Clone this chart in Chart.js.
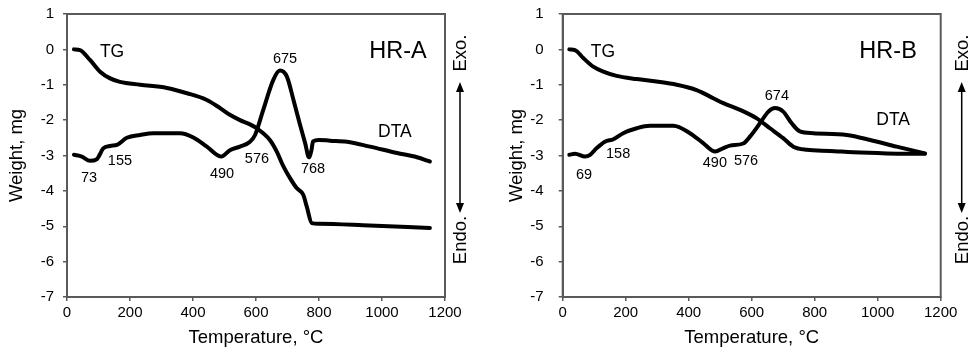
<!DOCTYPE html>
<html>
<head>
<meta charset="utf-8">
<script src="https://cdn.jsdelivr.net/npm/chart.js@4.4.1/dist/chart.umd.min.js"></script>
<style>
  html, body { margin: 0; padding: 0; background: #fff; }
  .wrap { position: relative; width: 974px; height: 350px; }
  canvas { position: absolute; top: 0; }
</style>
</head>
<body>
<div class="wrap">
  <canvas id="hrA" width="487" height="350" style="left:0"></canvas>
  <canvas id="hrB" width="487" height="350" style="left:487px"></canvas>
</div>
<script>
'use strict';

// HR-A, TG and DTA traces (temperature in °C, weight in mg)
const tgA_T = [22, 41, 73, 105, 137, 168, 232, 317, 381, 444, 486, 517, 549, 581, 602, 644, 666, 687, 708, 729, 750, 761, 777, 800, 940, 1152];
const tgA_V = [0, -0.02, -0.3, -0.63, -0.82, -0.92, -1.0, -1.09, -1.24, -1.43, -1.66, -1.85, -2.0, -2.12, -2.23, -2.56, -2.89, -3.31, -3.64, -3.92, -4.11, -4.44, -4.91, -4.93, -4.97, -5.05];
const dtaA_T = [22, 47, 73, 95, 115, 137, 159, 190, 232, 274, 317, 359, 401, 444, 490, 517, 549, 581, 597, 623, 655, 676, 698, 719, 740, 756, 768, 776, 781, 800, 835, 889, 962, 1048, 1111, 1152];
const dtaA_V = [-2.98, -3.03, -3.15, -3.1, -2.8, -2.73, -2.7, -2.5, -2.42, -2.37, -2.37, -2.37, -2.49, -2.75, -3.03, -2.85, -2.75, -2.61, -2.42, -1.71, -0.86, -0.6, -0.77, -1.43, -2.14, -2.65, -3.05, -2.85, -2.6, -2.56, -2.58, -2.61, -2.75, -2.93, -3.05, -3.17];

// HR-B
const tgB_T = [21, 39, 66, 97, 129, 171, 235, 298, 362, 425, 478, 510, 563, 616, 658, 700, 732, 775, 848, 922, 1029, 1150];
const tgB_V = [0, -0.02, -0.25, -0.49, -0.63, -0.75, -0.84, -0.91, -1.0, -1.15, -1.38, -1.52, -1.71, -1.95, -2.23, -2.51, -2.75, -2.84, -2.87, -2.91, -2.94, -2.95];
const dtaB_T = [21, 39, 71, 87, 108, 134, 161, 192, 235, 277, 351, 404, 446, 484, 510, 531, 573, 595, 626, 653, 674, 700, 727, 753, 796, 902, 976, 1060, 1150];
const dtaB_V = [-2.98, -2.95, -3.03, -2.98, -2.79, -2.61, -2.54, -2.37, -2.23, -2.16, -2.16, -2.37, -2.65, -2.89, -2.79, -2.72, -2.66, -2.46, -2.09, -1.76, -1.66, -1.76, -2.09, -2.32, -2.37, -2.42, -2.56, -2.75, -2.94];

// peak labels: text, temperature, weight
const labelsA = [
  ['TG', 143, -0.07], ['73', 70, -3.63], ['155', 168, -3.15], ['490', 492, -3.52],
  ['576', 603, -3.1], ['675', 692, -0.27], ['768', 781, -3.38], ['DTA', 1041, -2.33], ['HR-A', 1051, -0.07]
];
const labelsB = [
  ['TG', 128, -0.07], ['69', 68, -3.55], ['158', 176, -2.95], ['490', 483, -3.21],
  ['576', 582, -3.15], ['674', 680, -1.32], ['DTA', 1049, -1.99], ['HR-B', 1033, -0.07]
];

const xTicks = [0, 200, 400, 600, 800, 1000, 1200];
const yTicks = [-7, -6, -5, -4, -3, -2, -1, 0, 1];

Chart.defaults.font.family = "'Liberation Sans', Arial, sans-serif";
Chart.defaults.color = '#000';

const AXIS = '#5a5a5a';
const pts = (xs, ys) => xs.map((x, i) => ({ x, y: ys[i] }));

const extras = {
  id: 'extras',
  afterDraw(chart, args, o) {
    const { ctx, chartArea: a, scales: { x, y } } = chart;
    ctx.save();
    // top/right frame
    ctx.strokeStyle = AXIS;
    ctx.lineWidth = 2;
    ctx.strokeRect(a.left, a.top, a.right - a.left, a.bottom - a.top);

    // peak / curve labels
    ctx.fillStyle = '#000';
    ctx.textAlign = 'center';
    ctx.textBaseline = 'middle';
    o.labels.forEach(([t, tx, ty]) => {
      const big = t.startsWith('HR');
      const word = t === 'TG' || t === 'DTA';
      ctx.font = (big ? 23.5 : word ? 17.5 : 14.5) + "px 'Liberation Sans', Arial, sans-serif";
      ctx.fillText(t, x.getPixelForValue(tx), y.getPixelForValue(ty));
    });

    // Exo / Endo arrow
    const ax = a.right + o.arrowGap;
    const y1 = a.top + 68, y2 = a.top + 199;
    ctx.strokeStyle = '#000';
    ctx.lineWidth = 1.5;
    ctx.beginPath();
    ctx.moveTo(ax, y1 + 4);
    ctx.lineTo(ax, y2 - 4);
    ctx.stroke();
    ctx.fillStyle = '#000';
    ctx.beginPath();
    ctx.moveTo(ax, y1); ctx.lineTo(ax - 4, y1 + 10); ctx.lineTo(ax + 4, y1 + 10); ctx.closePath();
    ctx.fill();
    ctx.beginPath();
    ctx.moveTo(ax, y2); ctx.lineTo(ax - 4, y2 - 10); ctx.lineTo(ax + 4, y2 - 10); ctx.closePath();
    ctx.fill();
    ctx.font = "18.5px 'Liberation Sans', Arial, sans-serif";
    [['Exo.', a.top + 39], ['Endo.', a.top + 226]].forEach(([t, cy]) => {
      ctx.save();
      ctx.translate(ax + 1, cy);
      ctx.rotate(-Math.PI / 2);
      ctx.fillText(t, 0, 0);
      ctx.restore();
    });
    ctx.restore();
  },
};

function makeChart(id, tgT, tgV, dtaT, dtaV, labels, cfg) {
  const line = (data) => ({
    data,
    borderColor: '#000',
    borderWidth: 4,
    pointRadius: 0,
    cubicInterpolationMode: 'monotone',
    borderCapStyle: 'round',
    borderJoinStyle: 'round',
  });
  const noPad = (s) => { s.paddingTop = 0; s.paddingBottom = 0; s.paddingLeft = 0; s.paddingRight = 0; };
  return new Chart(document.getElementById(id), {
    type: 'line',
    data: { datasets: [line(pts(tgT, tgV)), line(pts(dtaT, dtaV))] },
    options: {
      responsive: false,
      animation: false,
      events: [],
      layout: { padding: { top: 14, right: cfg.padRight, left: 0, bottom: 0 } },
      plugins: {
        legend: { display: false },
        tooltip: { enabled: false },
        extras: { labels, arrowGap: cfg.arrowGap },
      },
      scales: {
        x: {
          type: 'linear',
          min: 0,
          max: 1200,
          afterBuildTicks: (s) => { s.ticks = xTicks.map((v) => ({ value: v })); },
          afterFit: (s) => { s.height = 53; noPad(s); },
          grid: { drawOnChartArea: false, color: AXIS, tickLength: 4, lineWidth: 1.5 },
          border: { color: AXIS, width: 2 },
          ticks: { font: { size: 15 }, padding: 3, maxRotation: 0, callback: (v) => String(v) },
          title: { display: true, text: 'Temperature, °C', font: { size: 18.5 }, padding: { bottom: 1, top: 0 } },
        },
        y: {
          min: -7,
          max: 1,
          afterBuildTicks: (s) => { s.ticks = yTicks.map((v) => ({ value: v })); },
          afterFit: (s) => { s.width = cfg.yWidth; noPad(s); },
          grid: { drawOnChartArea: false, color: AXIS, tickLength: 4, lineWidth: 1.5 },
          border: { color: AXIS, width: 2 },
          ticks: { font: { size: 15 }, padding: cfg.yPad, callback: (v) => String(v) },
          title: { display: true, text: 'Weight, mg', font: { size: 18.5 }, padding: { top: cfg.yTitlePad, bottom: 0 } },
        },
      },
    },
    plugins: [extras],
  });
}

makeChart('hrA', tgA_T, tgA_V, dtaA_T, dtaA_V, labelsA, { padRight: 42, yWidth: 67, yPad: 9, yTitlePad: 6, arrowGap: 15 });
makeChart('hrB', tgB_T, tgB_V, dtaB_T, dtaB_V, labelsB, { padRight: 33.3, yWidth: 75.7, yPad: 15, yTitlePad: 19, arrowGap: 21 });
</script>
</body>
</html>
